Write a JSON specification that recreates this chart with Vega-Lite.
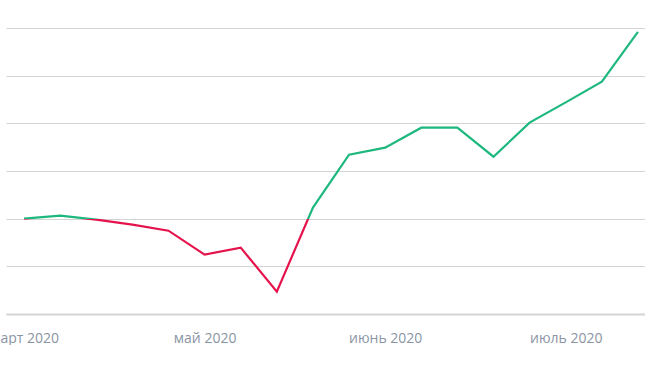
{
  "$schema": "https://vega.github.io/schema/vega-lite/v6.json",
  "autosize": "none",
  "padding": {"left": 6, "top": 28, "right": 0, "bottom": 31},
  "width": 650,
  "height": 286,
  "background": "white",
  "config": {"view": {"stroke": null}},
  "data": {
    "values": [
      {"t": 1, "value": 100.0},
      {"t": 2, "value": 100.63},
      {"t": 3, "value": 99.79},
      {"t": 4, "value": 98.74},
      {"t": 5, "value": 97.48},
      {"t": 6, "value": 92.45},
      {"t": 7, "value": 93.92},
      {"t": 8, "value": 84.69},
      {"t": 9, "value": 102.31},
      {"t": 10, "value": 113.43},
      {"t": 11, "value": 114.89},
      {"t": 12, "value": 119.09},
      {"t": 13, "value": 119.09},
      {"t": 14, "value": 113.0},
      {"t": 15, "value": 120.14},
      {"t": 16, "value": 124.4},
      {"t": 17, "value": 128.74},
      {"t": 18, "value": 139.2}
    ]
  },
  "mark": {
    "type": "line",
    "strokeWidth": 2.2,
    "strokeJoin": "miter",
    "color": {
      "gradient": "linear",
      "x1": 0, "y1": 0, "x2": 0, "y2": 1,
      "stops": [
        {"offset": 0, "color": "#1db87e"},
        {"offset": 0.719, "color": "#1db87e"},
        {"offset": 0.72, "color": "#e5134b"},
        {"offset": 1, "color": "#e5134b"}
      ]
    }
  },
  "encoding": {
    "x": {
      "field": "t",
      "type": "ordinal",
      "scale": {"type": "point", "padding": 0.5},
      "axis": {
        "title": null,
        "labelAngle": 0,
        "domain": true,
        "domainColor": "#d4d4d4",
        "domainWidth": 2,
        "ticks": false,
        "grid": false,
        "labelPadding": 17,
        "labelFont": "Open Sans",
        "labelFontSize": 14,
        "labelColor": "#8a94a3",
        "labelExpr": "datum.value == 1 ? 'март 2020' : datum.value == 6 ? 'май 2020' : datum.value == 11 ? 'июнь 2020' : datum.value == 16 ? 'июль 2020' : ''"
      }
    },
    "y": {
      "field": "value",
      "type": "quantitative",
      "scale": {"domain": [80, 140], "nice": false, "zero": false},
      "axis": {
        "title": null,
        "values": [80, 90, 100, 110, 120, 130, 140],
        "labels": false,
        "ticks": false,
        "domain": false,
        "grid": true,
        "gridColor": "#d4d4d4",
        "gridWidth": 1
      }
    }
  }
}
